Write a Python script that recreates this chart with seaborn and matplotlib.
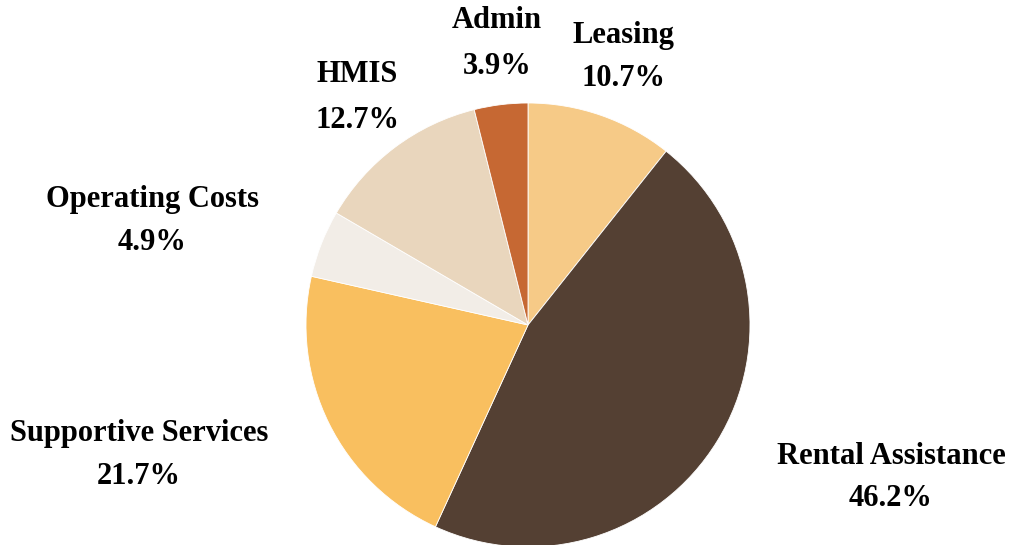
import matplotlib
matplotlib.use("Agg")
import matplotlib.pyplot as plt
import seaborn as sns

categories = ["Leasing", "Rental Assistance", "Supportive Services",
              "Operating Costs", "HMIS", "Admin"]
values = [10.7, 46.2, 21.7, 4.9, 12.7, 3.9]
pct_labels = ["10.7%", "46.2%", "21.7%", "4.9%", "12.7%", "3.9%"]
colors = ["#F6CA87", "#544033", "#F9BF5F", "#F2EDE7", "#E9D6BD", "#C66833"]

# label anchor positions (pixels from top-left: x, name y, pct y), layout only
label_pos = [(623, 35, 78), (891, 456, 499), (139, 434, 477),
             (152, 200, 243), (357, 75, 120), (497, 20, 66)]

sns.set_theme(style="white")
plt.rcParams["font.family"] = ["Liberation Serif", "DejaVu Serif"]

W, H = 1011, 545
fig = plt.figure(figsize=(W / 100, H / 100), dpi=100)
ax = fig.add_axes([0, 0, 1, 1])

ax.pie(values, colors=colors, startangle=90, counterclock=False,
       center=(528, H - 325), radius=222,
       wedgeprops=dict(linewidth=0.6, edgecolor="white", antialiased=True))

for cat, pct, (x, y1, y2) in zip(categories, pct_labels, label_pos):
    ax.text(x, H - y1, cat, ha="center", va="center",
            fontsize=22, fontweight="bold", color="black")
    ax.text(x, H - y2, pct, ha="center", va="center",
            fontsize=22, fontweight="bold", color="black")

ax.set_xlim(0, W)
ax.set_ylim(0, H)
ax.set_aspect("equal")
ax.axis("off")

fig.savefig("out.png", dpi=100, facecolor="white")
